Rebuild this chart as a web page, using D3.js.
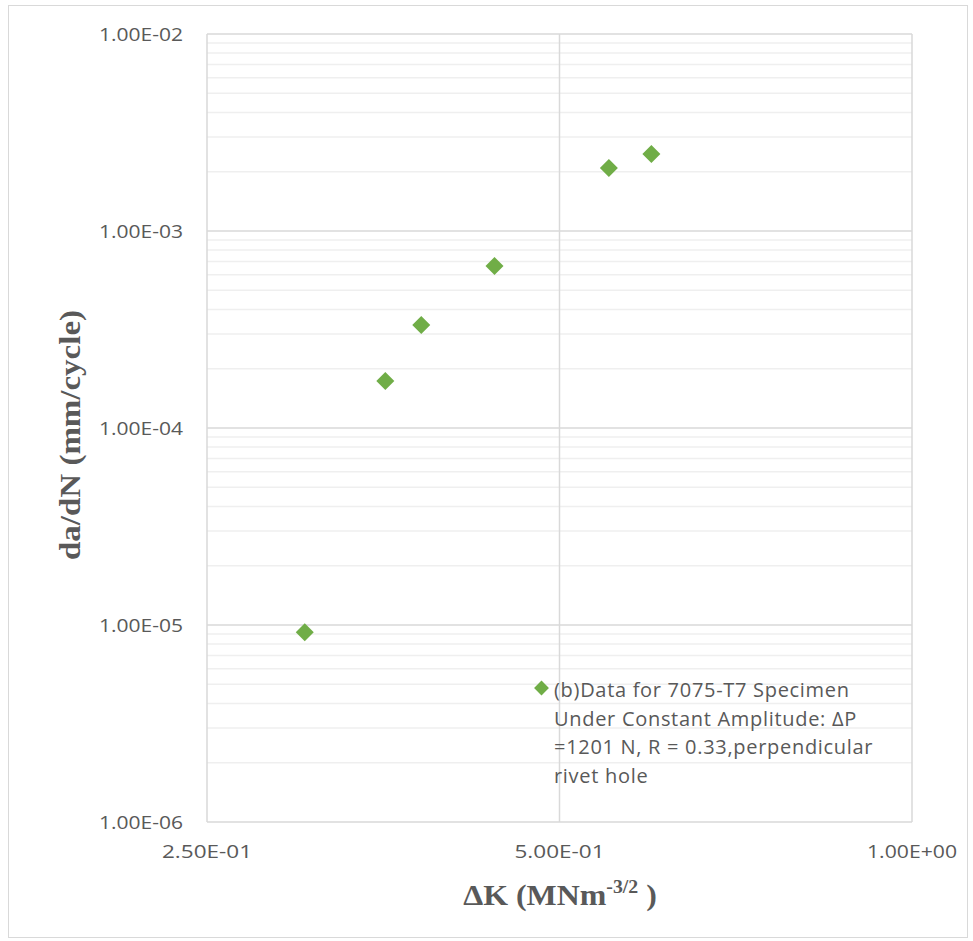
<!DOCTYPE html>
<html><head><meta charset="utf-8">
<script src="https://cdn.jsdelivr.net/npm/d3@7"></script>
<style>body{margin:0;background:#fff}</style>
</head><body>
<svg id="c" width="973" height="941"></svg>
<script>
const deltaK = [0.303, 0.355, 0.381, 0.440, 0.551, 0.599];
const dadN = [9.2e-6, 1.73e-4, 3.33e-4, 6.64e-4, 2.09e-3, 2.46e-3];
const xTicks = [0.25, 0.5, 1.0];
const xTickLabels = ["2.50E-01", "5.00E-01", "1.00E+00"];
const yTicks = [1e-6, 1e-5, 1e-4, 1e-3, 1e-2];
const yTickLabels = ["1.00E-06", "1.00E-05", "1.00E-04", "1.00E-03", "1.00E-02"];
const legendLines = ["(b)Data for 7075-T7 Specimen", "Under Constant Amplitude: ΔP", "=1201 N, R = 0.33,perpendicular", "rivet hole"];

const svg = d3.select("#c");
const L = 207, R = 912, T = 34, B = 822;
const x = d3.scaleLog().base(2).domain([0.25, 1]).range([L, R]);
const y = d3.scaleLog().domain([1e-6, 1e-2]).range([B, T]);
const FONT = "'Open Sans', sans-serif";

svg.append("rect").attr("x", 8.5).attr("y", 5.5).attr("width", 959).attr("height", 932)
  .attr("fill", "#fff").attr("stroke", "#d9d9d9");

// minor y grid
const minors = [];
for (let e = -6; e < -2; e++) for (let m = 2; m <= 9; m++) minors.push(m * Math.pow(10, e));
svg.append("g").selectAll("line").data(minors).join("line")
  .attr("x1", L).attr("x2", R).attr("y1", d => y(d)).attr("y2", d => y(d))
  .attr("stroke", "#efefef").attr("stroke-width", 1.5);
// major y grid
svg.append("g").selectAll("line").data(yTicks).join("line")
  .attr("x1", L).attr("x2", R).attr("y1", d => y(d)).attr("y2", d => y(d))
  .attr("stroke", "#d9d9d9").attr("stroke-width", 1.5);
// x grid
svg.append("g").selectAll("line").data(xTicks).join("line")
  .attr("x1", d => x(d)).attr("x2", d => x(d)).attr("y1", T).attr("y2", B)
  .attr("stroke", "#d9d9d9").attr("stroke-width", 1.5);

// tick labels
svg.append("g").selectAll("text").data(yTicks).join("text")
  .attr("x", 183).attr("y", d => y(d) + 6.5).attr("text-anchor", "end")
  .attr("font-family", FONT).attr("font-size", 18.5).attr("fill", "#595959")
  .attr("textLength", 84).attr("lengthAdjust", "spacingAndGlyphs")
  .text((d, i) => yTickLabels[i]);
svg.append("g").selectAll("text").data(xTicks).join("text")
  .attr("x", d => x(d)).attr("y", 858).attr("text-anchor", "middle")
  .attr("font-family", FONT).attr("font-size", 18.5).attr("fill", "#595959")
  .attr("textLength", 90).attr("lengthAdjust", "spacingAndGlyphs")
  .text((d, i) => xTickLabels[i]);

// axis titles
const xt = svg.append("text").attr("text-anchor", "middle")
  .attr("transform", "translate(560,905) scale(1.1,1)")
  .attr("font-family", "'Liberation Serif', serif").attr("font-weight", "bold").attr("font-size", 29).attr("fill", "#595959");
xt.append("tspan").text("ΔK (MNm");
xt.append("tspan").attr("font-size", 18).attr("dy", -12).text("-3/2");
xt.append("tspan").attr("dy", 12).text(" )");
svg.append("text").attr("transform", "translate(80,435) rotate(-90)").attr("text-anchor", "middle")
  .attr("font-family", "'Liberation Serif', serif").attr("font-weight", "bold").attr("font-size", 30).attr("fill", "#595959")
  .attr("textLength", 250).attr("lengthAdjust", "spacingAndGlyphs")
  .text("da/dN (mm/cycle)");

// points
const pts = deltaK.map((k, i) => [k, dadN[i]]);
svg.append("g").selectAll("path").data(pts).join("path")
  .attr("d", d3.symbol().type(d3.symbolSquare).size(162))
  .attr("transform", d => `translate(${x(d[0])},${y(d[1])}) rotate(45)`)
  .attr("fill", "#70ad47");

// legend
svg.append("path").attr("d", d3.symbol().type(d3.symbolSquare).size(110)())
  .attr("transform", "translate(541.5,688) rotate(45)").attr("fill", "#70ad47");
svg.append("g").selectAll("text").data(legendLines).join("text")
  .attr("x", 554).attr("y", (d, i) => 697 + i * 28.5)
  .attr("font-family", FONT).attr("font-size", 20).attr("letter-spacing", 0.7).attr("fill", "#595959")
  .text(d => d);
</script>
</body></html>
